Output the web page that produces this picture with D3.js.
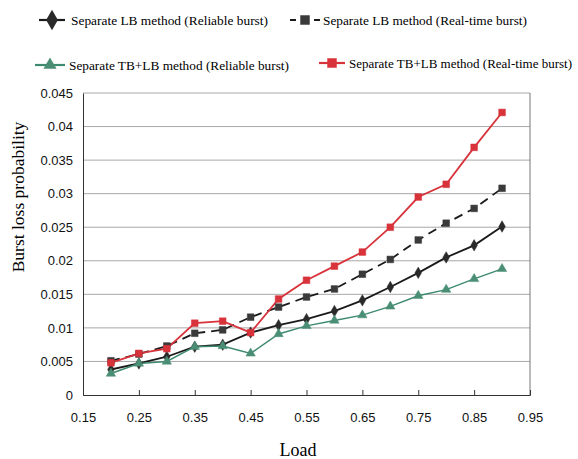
<!DOCTYPE html>
<html><head><meta charset="utf-8">
<script src="https://cdn.jsdelivr.net/npm/d3@7"></script>
<style>body{margin:0;background:#fff}svg{display:block}
.serif{font-family:"Liberation Serif","Times New Roman",Times,serif}
.sans{font-family:"Liberation Sans",Arial,Helvetica,sans-serif}
</style>
</head><body>
<script>
const loads = [0.2,0.25,0.3,0.35,0.4,0.45,0.5,0.55,0.6,0.65,0.7,0.75,0.8,0.85,0.9];
const lbReliable = [0.0038,0.0047,0.0057,0.0072,0.0075,0.0093,0.0104,0.0113,0.0125,0.0141,0.0161,0.0182,0.0205,0.0223,0.0251];
const lbRealtime = [0.0051,0.0061,0.0073,0.0092,0.0097,0.0116,0.0131,0.0146,0.0158,0.018,0.0202,0.0231,0.0256,0.0278,0.0308];
const tblbReliable = [0.0032,0.0047,0.005,0.0072,0.0073,0.0062,0.0091,0.0103,0.0111,0.0119,0.0132,0.0148,0.0157,0.0173,0.0188];
const tblbRealtime = [0.0048,0.0062,0.0069,0.0107,0.011,0.0093,0.0143,0.0171,0.0192,0.0213,0.025,0.0295,0.0314,0.0369,0.0421];
const seriesNames = ["Separate LB method (Reliable burst)","Separate LB method (Real-time burst)","Separate TB+LB method (Reliable burst)","Separate TB+LB method (Real-time burst)"];
const xTicks = [0.15,0.25,0.35,0.45,0.55,0.65,0.75,0.85,0.95];
const yTicks = [0,0.005,0.01,0.015,0.02,0.025,0.03,0.035,0.04,0.045];
const yTickLabels = ["0","0.005","0.01","0.015","0.02","0.025","0.03","0.035","0.04","0.045"];
const xLabel = "Load", yLabel = "Burst loss probability";

const W=578,H=459;
const svg=d3.select("body").append("svg").attr("width",W).attr("height",H);
const x=d3.scaleLinear().domain([0.15,0.95]).range([83,530]);
const y=d3.scaleLinear().domain([0,0.045]).range([395,93]);

// gridlines
svg.append("g").selectAll("line").data(yTicks.slice(1)).join("line")
  .attr("x1",x(0.15)).attr("x2",x(0.95)).attr("y1",d=>y(d)).attr("y2",d=>y(d))
  .attr("stroke","#a8a8a8").attr("stroke-width",1);
// right border
svg.append("line").attr("x1",x(0.95)).attr("x2",x(0.95)).attr("y1",y(0.045)).attr("y2",y(0)).attr("stroke","#777");

// axes
const xAxis=d3.axisBottom(x).tickValues(xTicks).tickSize(-5).tickFormat(d3.format(".2f"));
const gx=svg.append("g").attr("transform",`translate(0,${y(0)})`).call(xAxis);
gx.attr("font-family",null).attr("font-size",null);
gx.select(".domain").attr("stroke","#333");
gx.selectAll(".tick line").attr("stroke","#333");
gx.selectAll("text").attr("dy","1.1em").attr("y",13).attr("class","sans").style("font-size","13px").attr("fill","#111");
const yAxis=d3.axisLeft(y).tickValues(yTicks).tickSize(0).tickFormat((d,i)=>yTickLabels[i]);
const gy=svg.append("g").attr("transform",`translate(${x(0.15)},0)`).call(yAxis);
gy.attr("font-family",null).attr("font-size",null);
gy.select(".domain").attr("stroke","#333");
gy.selectAll("text").attr("x",-10).attr("class","sans").style("font-size","13px").attr("fill","#111");

// axis titles
svg.append("text").attr("x",298).attr("y",456).attr("text-anchor","middle").attr("class","serif")
  .style("font-size","18px").text(xLabel);
svg.append("text").attr("transform","translate(24,197) rotate(-90)").attr("text-anchor","middle").attr("class","serif")
  .style("font-size","17.5px").text(yLabel);

const series=[
  {name:seriesNames[0],vals:lbReliable,color:"#1a1a1a",mcolor:"#2a2a2a",dash:null,shape:d3.symbolDiamond,w:1.8},
  {name:seriesNames[1],vals:lbRealtime,color:"#1a1a1a",mcolor:"#3a3a3a",dash:"9,6",shape:d3.symbolSquare,w:1.8},
  {name:seriesNames[2],vals:tblbReliable,color:"#3d8a6e",mcolor:"#4a8f75",dash:null,shape:d3.symbolTriangle,w:1.5},
  {name:seriesNames[3],vals:tblbRealtime,color:"#d8323a",mcolor:"#d8323a",dash:null,shape:d3.symbolSquare,w:1.8}
];
const line=d3.line().x((d,i)=>x(loads[i])).y(d=>y(d));
const draw=[0,1,2,3];
draw.forEach(k=>{
  const s=series[k];
  svg.append("path").datum(s.vals).attr("d",line).attr("fill","none")
    .attr("stroke",s.color).attr("stroke-width",s.w).attr("stroke-dasharray",s.dash);
});
draw.forEach(k=>{
  const s=series[k];
  svg.append("g").selectAll("path").data(s.vals).join("path")
    .attr("transform",(d,i)=>`translate(${x(loads[i])},${y(d)})`)
    .attr("d",d3.symbol().type(s.shape).size(s.shape===d3.symbolSquare?45:38))
    .attr("fill",s.mcolor).attr("stroke",s.mcolor).attr("stroke-width",0.5);
});

// legend
const leg=[
  {x:39,y:20,lw:26,tx:71,tl:197,dash:null},
  {x:290,y:20,lw:30,tx:323,tl:204,dash:"6,18"},
  {x:35,y:65,lw:30,tx:69,tl:220,dash:null},
  {x:319,y:63,lw:26,tx:349,tl:223,dash:null}];
leg.forEach((p,k)=>{
  const s=series[k];
  const g=svg.append("g");
  g.append("line").attr("x1",p.x).attr("x2",p.x+p.lw).attr("y1",p.y).attr("y2",p.y)
    .attr("stroke",s.color).attr("stroke-width",2.2).attr("stroke-dasharray",p.dash);
  g.append("path").attr("transform",`translate(${p.x+p.lw/2},${p.y})`)
    .attr("d",d3.symbol().type(s.shape).size(k===0?120:k===2?75:90)).attr("fill",s.mcolor);
  g.append("text").attr("x",p.tx).attr("y",p.y+4.5).attr("class","serif")
    .attr("textLength",p.tl).attr("lengthAdjust","spacingAndGlyphs")
    .style("font-size","13px").text(s.name);
});
</script>
</body></html>
